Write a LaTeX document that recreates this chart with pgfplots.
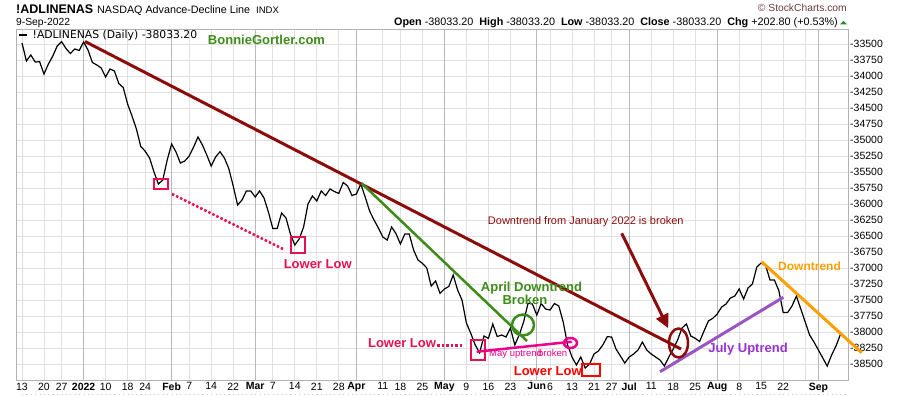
\documentclass[border=0pt]{standalone}
\usepackage{fontspec}
\setmainfont{Liberation Sans}
\newfontfamily\dejavu{DejaVu Sans}
\usepackage{pgfplots}
\usepackage{pgfplotstable}
\pgfplotsset{compat=1.18}
\usetikzlibrary{arrows.meta}
\definecolor{trmaroon}{RGB}{140,12,12}
\definecolor{trgreen}{RGB}{60,140,25}
\definecolor{crimson}{RGB}{232,16,80}
\definecolor{trpurple}{RGB}{155,85,195}
\definecolor{txpurple}{RGB}{150,50,210}
\definecolor{trorange}{RGB}{255,160,0}
\definecolor{gridlight}{RGB}{224,224,224}
\definecolor{gridmonth}{RGB}{185,185,185}
\definecolor{scbrown}{RGB}{105,60,65}
\definecolor{upgreen}{RGB}{40,140,40}

\pgfplotstableread{
idx val
0 -33480
1 -33761
2 -33667
3 -33777
4 -33772
5 -33964
6 -33808
7 -33683
8 -33527
9 -33459
10 -33566
11 -33644
12 -33573
13 -33597
14 -33464
15 -33589
16 -33784
17 -33823
18 -33870
19 -34011
20 -33886
21 -33917
22 -34113
23 -34175
24 -34433
25 -34620
26 -34823
27 -35097
28 -35170
29 -35277
30 -35495
31 -35683
32 -35620
33 -35308
34 -35058
35 -35183
36 -35355
37 -35323
38 -35245
39 -35105
40 -34948
41 -35073
42 -35230
43 -35402
44 -35261
45 -35178
46 -35277
47 -35441
48 -35714
49 -36011
50 -35933
51 -35792
52 -35792
53 -35886
54 -35792
55 -35902
56 -36120
57 -36378
58 -36378
59 -36136
60 -36214
61 -36464
62 -36636
63 -36542
64 -36355
65 -35995
66 -35870
67 -35948
68 -35792
69 -35863
70 -35761
71 -35800
72 -35831
73 -35659
74 -35714
75 -35863
76 -35839
77 -35683
78 -35886
79 -36105
80 -36245
81 -36370
82 -36511
83 -36558
84 -36355
85 -36458
86 -36620
87 -36464
88 -36464
89 -36714
90 -36870
91 -36922
92 -36995
93 -37277
94 -37198
95 -37391
96 -37323
97 -37284
98 -37105
99 -37339
100 -37495
101 -37855
102 -38016
103 -38198
104 -38319
105 -38058
106 -38094
107 -37870
108 -38066
109 -38042
110 -38073
111 -37933
112 -38198
113 -38042
114 -37839
115 -37547
116 -37558
117 -37730
118 -37550
119 -37636
120 -37652
121 -37550
122 -37589
123 -37839
124 -38198
125 -38386
126 -38511
127 -38386
128 -38558
129 -38495
130 -38339
131 -38292
132 -38198
133 -38069
134 -38073
135 -38261
136 -38370
137 -38480
138 -38386
139 -38339
140 -38277
141 -38152
142 -38277
143 -38339
144 -38386
145 -38433
146 -38527
147 -38386
148 -38261
149 -38120
150 -37933
151 -37870
152 -38058
153 -38094
154 -38144
155 -37980
156 -37823
157 -37781
158 -37714
159 -37605
160 -37558
161 -37464
162 -37433
163 -37323
164 -37480
165 -37308
166 -37245
167 -36980
168 -36917
169 -36956
170 -37183
171 -37183
172 -37347
173 -37691
174 -37691
175 -37589
176 -37433
177 -37636
178 -37839
179 -38042
180 -38152
181 -38277
182 -38402
183 -38527
184 -38355
185 -38214
186 -38033
}\adl

\begin{document}
\begin{tikzpicture}
\useasboundingbox (0pt,0pt) rectangle (900pt,396pt);
\begin{axis}[
  at={(16pt,16pt)}, anchor=south west,
  scale only axis, width=832pt, height=351pt,
  xmin=-1.364, xmax=187.727, ymin=-38745, ymax=-33261,
  clip=false,
  scaled y ticks=false, scaled x ticks=false,
  axis line style={draw=gray!60, line width=0.8pt},
  major tick length=0pt,
  xtick={0,5,9,14,19,24,28,34,38,43,48,53,57,62,67,72,76,82,86,91,96,101,106,111,117,120,125,130,134,138,143,148,153,158,163,168,173,178,181},
  xticklabels={13,20,27,\textbf{2022},10,18,24,\textbf{Feb},7,14,22,\textbf{Mar},7,14,21,28,\textbf{Apr},11,18,25,\textbf{May},9,16,23,\textbf{Jun},6,13,21,27,\textbf{Jul},11,18,25,\textbf{Aug},8,15,22,{},\textbf{Sep}},
  ytick={-38500,-38250,...,-33500},
  yticklabels={-38500,-38250,-38000,-37750,-37500,-37250,-37000,-36750,-36500,-36250,-36000,-35750,-35500,-35250,-35000,-34750,-34500,-34250,-34000,-33750,-33500},
  yticklabel pos=right,
  yticklabel style={anchor=west, inner sep=0pt, xshift=2pt, font=\fontsize{10.5}{12}\selectfont},
  xticklabel style={anchor=north, inner sep=0pt, yshift=-2.5pt, font=\fontsize{10.5}{12}\selectfont},
  grid=major,
  major grid style={draw=gridlight, line width=0.7pt},
  extra x ticks={14,34,53,76,96,117,138,158,181},
  extra x tick labels={},
  extra x tick style={grid=major, major grid style={draw=gridmonth, line width=1pt}},
]
\addplot[black, line width=1.2pt] table[x=idx,y=val]{\adl};
% trend lines
\addplot[trmaroon, line width=3pt] coordinates {(14.32,-33456) (149.77,-38261)};
\addplot[trgreen, line width=2.5pt] coordinates {(77.20,-35672) (114.77,-38136)};
\addplot[magenta, line width=2.5pt] coordinates {(103.34,-38303) (124.93,-38147)};
\addplot[trpurple, line width=3pt] coordinates {(145.0,-38616) (173.02,-37453)};
\addplot[trorange, line width=3pt] coordinates {(168.11,-36897) (190.84,-38319)};
\end{axis}

\begin{scope}[x=1pt,y=1pt]
% daily tick row at the bottom
\draw[gray!45, line width=0.6pt, dash pattern=on 0.6pt off 3.8pt] (22,2) -- (846,2);
% header
\node[anchor=base west, inner sep=0pt, font=\bfseries\fontsize{12.5}{14}\selectfont] at (16,382.5) {!ADLINENAS};
\node[anchor=base west, inner sep=0pt, font=\fontsize{10.75}{13}\selectfont] at (97,382.5) {NASDAQ Advance-Decline Line};
\node[anchor=base west, inner sep=0pt, font=\fontsize{9.5}{11}\selectfont] at (256,382.5) {INDX};
\node[anchor=base west, inner sep=0pt, font=\fontsize{10.3}{12}\selectfont] at (16,370) {9-Sep-2022};
\node[anchor=base east, inner sep=0pt, font=\fontsize{10.8}{12}\selectfont] at (838,370) {\textbf{Open} -38033.20\ \ \textbf{High} -38033.20\ \ \textbf{Low} -38033.20\ \ \textbf{Close} -38033.20\ \ \textbf{Chg} +202.80 (+0.53\%)};
\fill[upgreen] (840,371.7) -- (847,371.7) -- (843.5,375.2) -- cycle;
\node[anchor=base east, inner sep=0pt, text=scbrown, font=\fontsize{10.3}{12}\selectfont] at (847,384.5) {\textcopyright\ StockCharts.com};
% legend
\draw[black, line width=1.6pt] (19,361) -- (27,361);
\node[anchor=base west, inner sep=0pt, font=\dejavu\fontsize{10.8}{12}\selectfont] at (32.5,357.5) {!ADLINENAS (Daily) -38033.20};
\node[anchor=base, inner sep=0pt, text=trgreen, font=\bfseries\fontsize{13}{15}\selectfont] at (266.5,351) {BonnieGortler.com};
% January / March lower low
\draw[crimson, line width=2pt] (154,207) rectangle (168.3,217);
\draw[crimson, line width=2.5pt, dash pattern=on 2.5pt off 2pt] (172,202) -- (283,147);
\draw[crimson, line width=2pt] (290.7,143.3) rectangle (305,158.7);
\node[anchor=base, inner sep=0pt, text=crimson, font=\bfseries\fontsize{13}{15}\selectfont] at (317.7,127.7) {Lower Low};
% May lower low
\node[anchor=base, inner sep=0pt, text=crimson, font=\bfseries\fontsize{13}{15}\selectfont] at (402,48.7) {Lower Low};
\draw[crimson, line width=2.5pt, dash pattern=on 2.5pt off 2pt] (437,50.5) -- (462,50.5);
\draw[crimson, line width=2pt] (471,36) rectangle (485,56);
\draw[magenta, line width=2.5pt] (570.5,53) ellipse [x radius=6.5, y radius=5];
\node[anchor=base west, inner sep=0pt, text=magenta, font=\fontsize{9.5}{11}\selectfont] at (489,39.5) {May uptrend};
\node[anchor=base west, inner sep=0pt, text=magenta, font=\fontsize{9.5}{11}\selectfont] at (538,39.5) {broken};
% April downtrend
\node[anchor=base, inner sep=0pt, text=trgreen, font=\bfseries\fontsize{13}{15}\selectfont] at (531.5,104.3) {April Downtrend};
\node[anchor=base, inner sep=0pt, text=trgreen, font=\bfseries\fontsize{13}{15}\selectfont] at (525,91) {Broken};
\draw[trgreen, line width=2.5pt] (523,71) ellipse [x radius=11, y radius=10.5];
% June lower low
\draw[red, line width=2pt] (581.7,20) rectangle (600,32);
\node[anchor=base, inner sep=0pt, text=red, font=\bfseries\fontsize{13}{15}\selectfont] at (547.8,20) {Lower Low};
% January downtrend broken
\node[anchor=base, inner sep=0pt, text=trmaroon, font=\fontsize{11}{13}\selectfont] at (585.8,171) {Downtrend from January 2022 is broken};
\draw[trmaroon, line width=3pt, -{Triangle[length=14pt,width=13pt]}] (621.7,162.7) -- (668.3,67.7);
\draw[trmaroon, line width=2.5pt] (678.5,53) ellipse [x radius=9.5, y radius=14.5];
% July uptrend / downtrend
\node[anchor=base, inner sep=0pt, text=txpurple, font=\bfseries\fontsize{13}{15}\selectfont] at (748,43.3) {July Uptrend};
\node[anchor=base, inner sep=0pt, text=trorange, font=\bfseries\fontsize{12}{14}\selectfont] at (809.5,125) {Downtrend};
\end{scope}
\end{tikzpicture}
\end{document}
